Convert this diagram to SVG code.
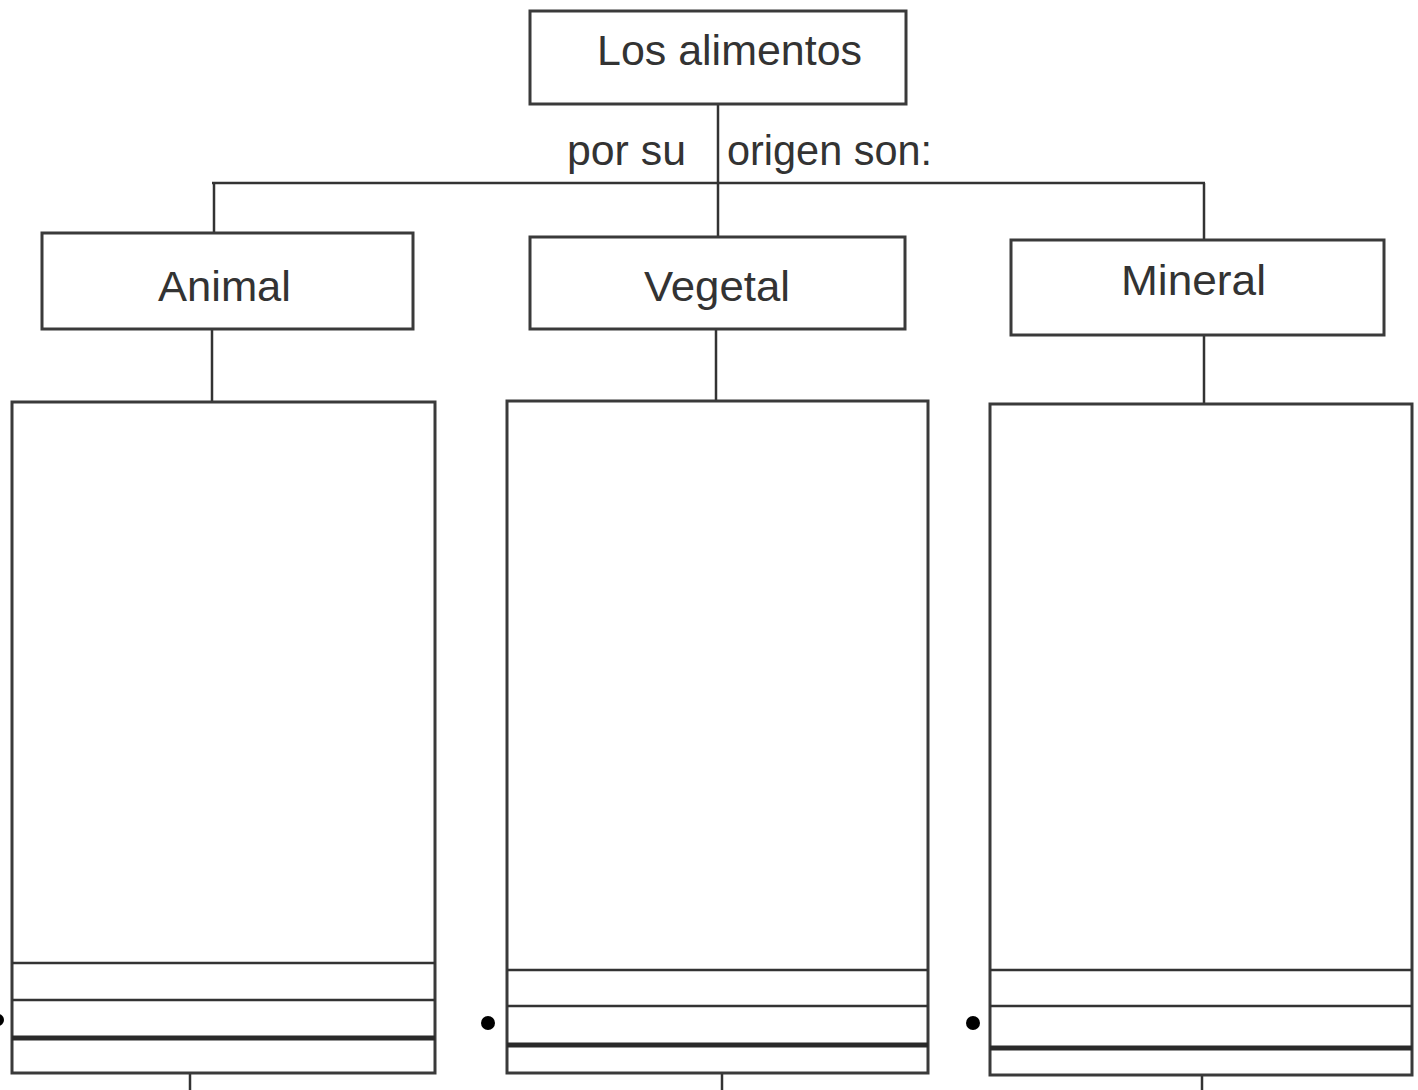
<svg xmlns="http://www.w3.org/2000/svg" width="1418" height="1090" viewBox="0 0 1418 1090">
<style>
.box{fill:#fff;stroke:#3a3a3a;stroke-width:3}
.ln{stroke:#333;stroke-width:2.5;fill:none}
.thick{stroke:#2a2a2a;stroke-width:5;fill:none}
.t{font-family:"Liberation Sans",Arial,sans-serif;fill:#333;font-size:42px}
.dot{fill:#000}
</style>
<rect width="1418" height="1090" fill="#fff"/>
<g id="connectors">
<line class="ln" x1="718" y1="104" x2="718" y2="237"/>
<line class="ln" x1="212" y1="183" x2="1205" y2="183"/>
<line class="ln" x1="214" y1="183" x2="214" y2="233"/>
<line class="ln" x1="1204" y1="183" x2="1204" y2="240"/>
<line class="ln" x1="212" y1="329" x2="212" y2="403"/>
<line class="ln" x1="716" y1="330" x2="716" y2="401"/>
<line class="ln" x1="1204" y1="336" x2="1204" y2="404"/>
<line class="ln" x1="190" y1="1073" x2="190" y2="1090"/>
<line class="ln" x1="722" y1="1073" x2="722" y2="1090"/>
<line class="ln" x1="1202" y1="1075" x2="1202" y2="1090"/>
</g>
<g id="root">
<rect class="box" x="530" y="11" width="376" height="93"/>
<text class="t" x="597" y="65" textLength="265" lengthAdjust="spacingAndGlyphs">Los alimentos</text>
</g>
<g id="edge-label">
<text class="t" x="567" y="165" textLength="119" lengthAdjust="spacingAndGlyphs">por su</text>
<text class="t" x="727" y="165" textLength="205" lengthAdjust="spacingAndGlyphs">origen son:</text>
</g>
<g id="animal">
<rect class="box" x="42" y="233" width="371" height="96"/>
<text class="t" x="158" y="301" textLength="133" lengthAdjust="spacingAndGlyphs">Animal</text>
</g>
<g id="vegetal">
<rect class="box" x="530" y="237" width="375" height="92"/>
<text class="t" x="644" y="301" textLength="146" lengthAdjust="spacingAndGlyphs">Vegetal</text>
</g>
<g id="mineral">
<rect class="box" x="1011" y="240" width="373" height="95"/>
<text class="t" x="1121" y="295" textLength="145" lengthAdjust="spacingAndGlyphs">Mineral</text>
</g>
<g id="animal-list">
<rect class="box" x="12" y="402" width="423" height="671"/>
<line class="ln" x1="12" y1="963" x2="435" y2="963"/>
<line class="ln" x1="12" y1="1000" x2="435" y2="1000"/>
<line class="thick" x1="12" y1="1038" x2="435" y2="1038"/>
<circle class="dot" cx="-2" cy="1020" r="6"/>
</g>
<g id="vegetal-list">
<rect class="box" x="507" y="401" width="421" height="672"/>
<line class="ln" x1="507" y1="970" x2="928" y2="970"/>
<line class="ln" x1="507" y1="1006" x2="928" y2="1006"/>
<line class="thick" x1="507" y1="1045" x2="928" y2="1045"/>
<circle class="dot" cx="488" cy="1023" r="7"/>
</g>
<g id="mineral-list">
<rect class="box" x="990" y="404" width="422" height="671"/>
<line class="ln" x1="990" y1="970" x2="1412" y2="970"/>
<line class="ln" x1="990" y1="1006" x2="1412" y2="1006"/>
<line class="thick" x1="990" y1="1048" x2="1412" y2="1048"/>
<circle class="dot" cx="973" cy="1023" r="7"/>
</g>
</svg>
